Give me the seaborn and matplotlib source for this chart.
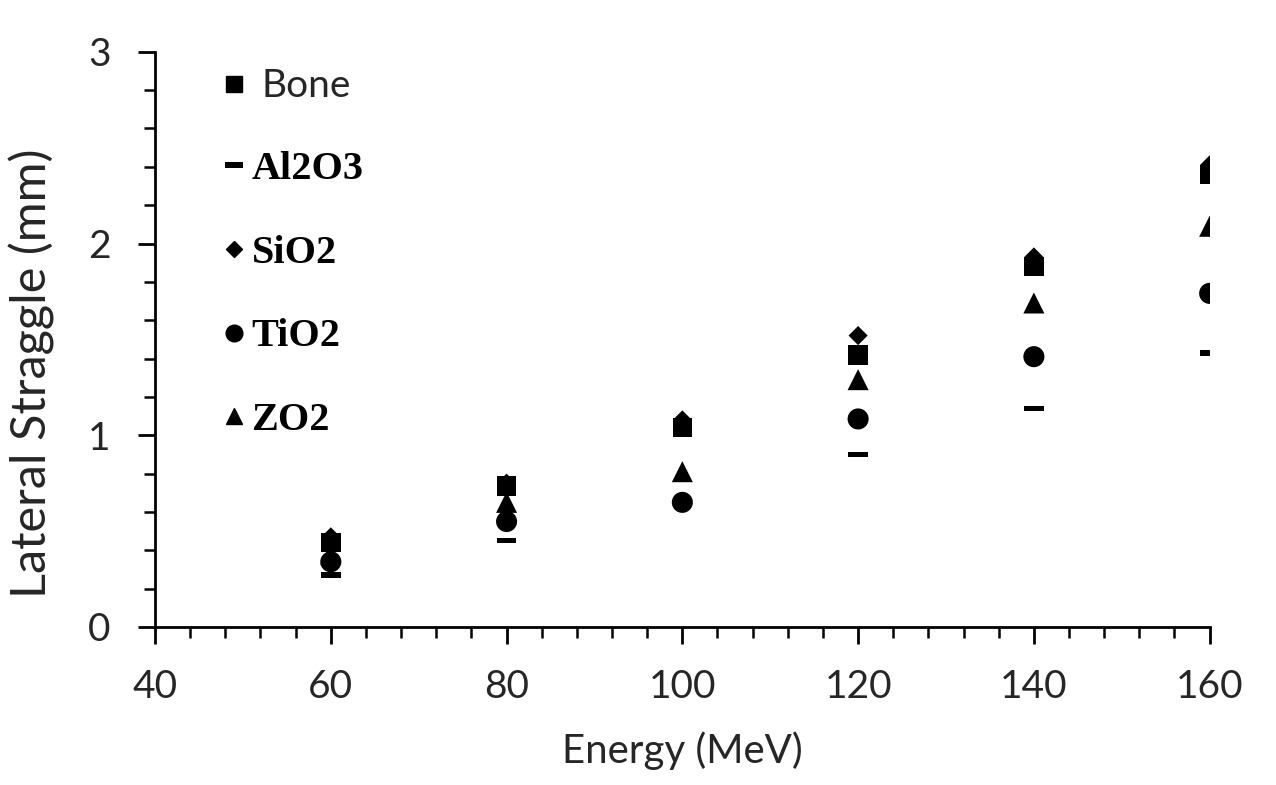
import numpy as np
import pandas as pd
import matplotlib
matplotlib.use("Agg")
import matplotlib.pyplot as plt
import seaborn as sns
from matplotlib.ticker import MultipleLocator
from matplotlib.font_manager import FontProperties
from matplotlib.lines import Line2D
from matplotlib.path import Path

energy = [60, 80, 100, 120, 140, 160]
bone = [0.44, 0.735, 1.04, 1.42, 1.88, 2.36]
al2o3 = [0.27, 0.45, 0.65, 0.90, 1.14, 1.43]
sio2 = [0.47, 0.75, 1.08, 1.52, 1.93, 2.41]
tio2 = [0.34, 0.55, 0.65, 1.085, 1.41, 1.74]
zo2 = [0.38, 0.65, 0.81, 1.29, 1.69, 2.09]

series_names = ["Bone", "Al2O3", "SiO2", "TiO2", "ZO2"]
series_values = [bone, al2o3, sio2, tio2, zo2]

x_ticks = [40, 60, 80, 100, 120, 140, 160]
y_ticks = [0, 1, 2, 3]

df = pd.DataFrame({
    "Energy": np.tile(energy, len(series_names)),
    "Straggle": np.concatenate(series_values),
    "Material": np.repeat(series_names, len(energy)),
})

sns.set_theme(style="white")
plt.rcParams['font.family'] = ['Lato', 'DejaVu Sans']

TXT = "#262626"
fig = plt.figure(figsize=(12.76, 7.85), dpi=100)
ax = fig.add_axes([0.1215, 0.2013, 0.8265, 0.7327])

dash = [(-1, -0.28), (1, -0.28), (1, 0.28), (-1, 0.28), (-1, -0.28)]
styles = {
    "Bone": dict(marker="s", s=200),
    "Al2O3": dict(marker=dash, s=200),
    "SiO2": dict(marker="D", s=95),
    "TiO2": dict(marker="o", s=230),
    "ZO2": dict(marker="^", s=230),
}

for name in ["Al2O3", "TiO2", "ZO2", "SiO2", "Bone"]:
    sub = df[df["Material"] == name]
    sns.scatterplot(data=sub, x="Energy", y="Straggle", ax=ax, color="black",
                    edgecolor="none", linewidth=0, legend=False,
                    **styles[name])

ax.set_xlim(40, 160)
ax.set_ylim(0, 3)
ax.set_xticks(x_ticks)
ax.set_yticks(y_ticks)
ax.xaxis.set_minor_locator(MultipleLocator(4))
ax.yaxis.set_minor_locator(MultipleLocator(0.2))
ax.tick_params(axis="both", which="major", direction="out", length=12, width=2,
               color="black", labelsize=28, labelcolor=TXT)
ax.tick_params(axis="x", which="major", pad=18)
ax.tick_params(axis="y", which="major", pad=20)
ax.tick_params(axis="both", which="minor", direction="out", length=8, width=1.8,
               color="black")
ax.tick_params(axis="x", which="both", bottom=True)
ax.tick_params(axis="y", which="both", left=True)
for sp in ["top", "right"]:
    ax.spines[sp].set_visible(False)
for sp in ["left", "bottom"]:
    ax.spines[sp].set_color("black")
    ax.spines[sp].set_linewidth(2)

ax.set_xlabel("Energy (MeV)", fontsize=29, color=TXT, labelpad=19)
ax.set_ylabel("Lateral Straggle (mm)", fontsize=35, color=TXT)
ax.yaxis.set_label_coords(-0.095, 0.442)

handles = [
    Line2D([], [], marker="s", color="black", linestyle="none", markersize=11),
    Line2D([], [], marker=Path(dash), color="black", linestyle="none", markersize=13, markeredgewidth=0),
    Line2D([], [], marker="D", color="black", linestyle="none", markersize=8),
    Line2D([], [], marker="o", color="black", linestyle="none", markersize=12),
    Line2D([], [], marker="^", color="black", linestyle="none", markersize=12),
]
leg = ax.legend(handles, series_names, loc="upper left", bbox_to_anchor=(0.031, 1.032),
                frameon=False, fontsize=28, labelspacing=1.2, handletextpad=0.14,
                handlelength=0.6)
serif_bold = FontProperties(family="Liberation Serif", weight="bold", size=29)
for i, t in enumerate(leg.get_texts()):
    if i == 0:
        t.set_fontproperties(FontProperties(family="Lato", size=28))
        t.set_color(TXT)
        t.set_position((10, 0))
    else:
        t.set_fontproperties(serif_bold)
        t.set_color("black")

fig.savefig("out.png", dpi=100, facecolor="white")
